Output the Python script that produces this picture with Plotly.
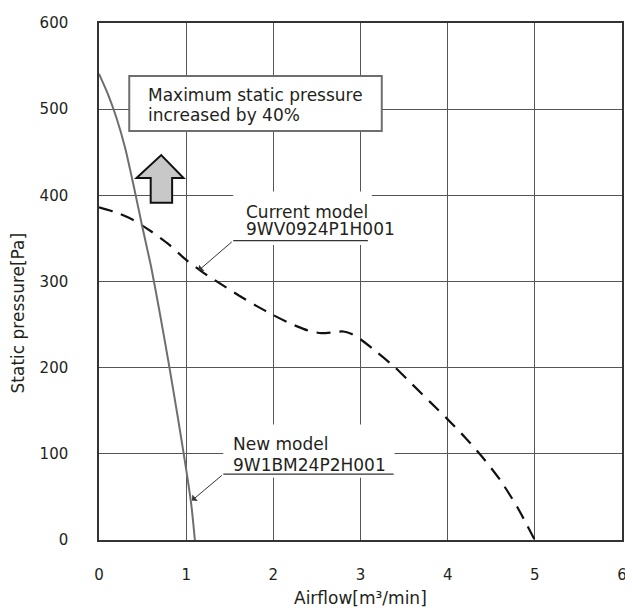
import plotly.graph_objects as go

# New model 9W1BM24P2H001 (solid)
new_x = [0, 0.1, 0.2, 0.3, 0.4, 0.5, 0.6, 0.7, 0.8, 0.9, 1.0, 1.06, 1.1]
new_y = [541, 518, 490, 455, 410, 362, 316, 262, 205, 145, 82, 40, 0]

# Current model 9WV0924P1H001 (dashed)
cur_x = [0, 0.2, 0.4, 0.6, 0.8, 1.0, 1.2, 1.4, 1.6, 1.8, 2.0, 2.2, 2.4, 2.55, 2.7,
         2.8, 2.9, 3.0, 3.2, 3.4, 3.6, 3.8, 4.0, 4.2, 4.4, 4.6, 4.8, 5.0]
cur_y = [386, 380, 371, 358, 343, 325, 310, 297, 284, 272, 261, 251, 243, 240, 241,
         242, 239, 233, 217, 200, 180, 160, 140, 119, 96, 70, 38, 0]

x_ticks = [0, 1, 2, 3, 4, 5, 6]
y_ticks = [0, 100, 200, 300, 400, 500, 600]

FONT = "DejaVu Sans"
TXT = "#231f20"

fig = go.Figure()
fig.add_trace(go.Scatter(x=cur_x, y=cur_y, mode="lines", line=dict(color="#111111", width=2.2, dash="14px,9px", shape="spline", smoothing=0.6), showlegend=False))
fig.add_trace(go.Scatter(x=new_x, y=new_y, mode="lines", line=dict(color="#6e6e6e", width=2, shape="spline", smoothing=0.6), showlegend=False))

shapes = []
# white label backgrounds hiding grid
shapes.append(dict(type="rect", xref="x", yref="y", x0=1.54, x1=3.13, y0=342.5, y1=404.4, fillcolor="white", line=dict(width=0), layer="between"))
shapes.append(dict(type="rect", xref="x", yref="y", x0=1.426, x1=3.39, y0=72.2, y1=134, fillcolor="white", line=dict(width=0), layer="between"))
# underlines
shapes.append(dict(type="line", xref="x", yref="y", x0=1.54, x1=3.085, y0=347.4, y1=347.4, line=dict(color="#333333", width=1.2)))
shapes.append(dict(type="line", xref="x", yref="y", x0=1.426, x1=3.38, y0=76.4, y1=76.4, line=dict(color="#333333", width=1.2)))
# callout box
shapes.append(dict(type="rect", xref="x", yref="y", x0=0.347, x1=3.244, y0=474.6, y1=538.4, fillcolor="white", line=dict(color="#6e6e6e", width=2), layer="above"))
# block arrow
shapes.append(dict(type="path", xref="x", yref="y",
                   path="M 0.714 446.7 L 0.97 420 L 0.839 420 L 0.839 391.4 L 0.593 391.4 L 0.593 420 L 0.43 420 Z",
                   fillcolor="#c8c8c8", line=dict(color="#111111", width=2), layer="above"))

ann = []
def txt(x, y, s):
    ann.append(dict(x=x, y=y, xref="x", yref="y", text=s, showarrow=False, xanchor="left", yanchor="middle",
                    font=dict(family=FONT, size=17, color=TXT)))

txt(0.54, 516.5, "Maximum static pressure")
txt(0.54, 493, "increased by 40%")
txt(1.66, 381, "Current model")
txt(1.66, 361, "9WV0924P1H001")
txt(1.52, 111.5, "New model")
txt(1.52, 87.5, "9W1BM24P2H001")

# callout arrows
ann.append(dict(x=1.142, y=312.7, ax=1.54, ay=347.4, xref="x", yref="y", axref="x", ayref="y", text="", showarrow=True,
                arrowhead=1, arrowsize=1.4, arrowwidth=1, arrowcolor="#333333"))
ann.append(dict(x=1.066, y=45.8, ax=1.426, ay=76.4, xref="x", yref="y", axref="x", ayref="y", text="", showarrow=True,
                arrowhead=1, arrowsize=1.4, arrowwidth=1, arrowcolor="#333333"))

# axis titles
ann.append(dict(x=0.5, y=-0.113, xref="paper", yref="paper", text="Airflow[m³/min]", showarrow=False,
                xanchor="center", yanchor="middle", font=dict(family=FONT, size=17, color=TXT)))
ann.append(dict(x=-0.155, y=0.44, xref="paper", yref="paper", text="Static pressure[Pa]", showarrow=False, textangle=-90,
                xanchor="center", yanchor="middle", font=dict(family=FONT, size=17, color=TXT)))

# page body adds an 8px offset, so the figure is sized to end at the window edge
fig.update_layout(
    width=625, height=602,
    margin=dict(l=91, r=6, t=8, b=70),
    paper_bgcolor="white", plot_bgcolor="white",
    shapes=shapes, annotations=ann,
    font=dict(family=FONT, size=15, color=TXT),
)
fig.update_xaxes(range=[0, 6], tickvals=x_ticks, showgrid=True, gridcolor="#555555", gridwidth=1,
                 showline=True, mirror=True, linecolor="#333333", linewidth=1.5, zeroline=False,
                 ticks="", ticklabelstandoff=20, ticklabeloverflow="allow",
                 tickfont=dict(family=FONT, size=15, color=TXT))
fig.update_yaxes(range=[0, 600], tickvals=y_ticks, showgrid=True, gridcolor="#555555", gridwidth=1,
                 showline=True, mirror=True, linecolor="#333333", linewidth=1.5, zeroline=False,
                 ticks="", ticklabelstandoff=26, ticklabeloverflow="allow",
                 tickfont=dict(family=FONT, size=15, color=TXT))

fig.write_html("out.html")
